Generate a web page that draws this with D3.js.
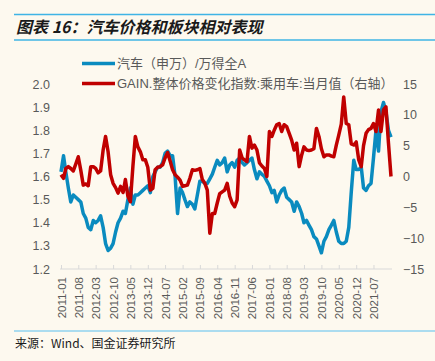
<!DOCTYPE html>
<html lang="zh">
<head>
<meta charset="UTF-8">
<title>汽车价格和板块相对表现</title>
<style>
  body, html { margin: 0; padding: 0; background: #fdf9ef; }
  svg { display: block; font-family: "Liberation Sans", Arial, "Noto Sans CJK SC", sans-serif; }
</style>
</head>
<body>
<svg id="chart" width="435" height="361"></svg>
<script src="https://d3js.org/d3.v7.min.js"></script>
<script>
// -------- DATA ------------
// monthly, 2011-01 .. 2022-02
const startMonth = new Date(2011, 0, 1)

// 汽车（申万）/万得全A  (left axis)
const ratio = [
  1.62, 1.69, 1.62, 1.55, 1.49, 1.52, 1.51, 1.50, 1.49, 1.44,
  1.42, 1.38, 1.37, 1.41, 1.40, 1.41, 1.43, 1.38, 1.31, 1.28,
  1.29, 1.31, 1.36, 1.40, 1.42, 1.45, 1.44, 1.50, 1.55, 1.48,
  1.52, 1.52, 1.53, 1.54, 1.55, 1.56, 1.53, 1.60, 1.62, 1.64,
  1.64, 1.66, 1.70, 1.71, 1.69, 1.69, 1.60, 1.44, 1.55, 1.53,
  1.50, 1.47, 1.49, 1.48, 1.46, 1.52, 1.58, 1.58, 1.57, 1.57,
  1.59, 1.61, 1.64, 1.67, 1.65, 1.66, 1.68, 1.62, 1.65, 1.66,
  1.64, 1.67, 1.68, 1.66, 1.65, 1.66, 1.67, 1.68, 1.63, 1.59,
  1.62, 1.61, 1.60, 1.58, 1.56, 1.53, 1.54, 1.49, 1.52, 1.54,
  1.55, 1.51, 1.50, 1.49, 1.45, 1.49, 1.47, 1.44, 1.40, 1.41,
  1.39, 1.37, 1.34, 1.33, 1.30, 1.27, 1.32, 1.34, 1.37, 1.39,
  1.41, 1.36, 1.32, 1.31, 1.31, 1.32, 1.38, 1.53, 1.67, 1.63,
  1.63, 1.64, 1.55, 1.54, 1.56, 1.57, 1.68, 1.80, 1.71, 1.88,
  1.92, 1.88, 1.80, 1.77
]

// GAIN.整体价格变化指数:乘用车:当月值 (right axis)
const gain = [
   0.3, -0.3,  1.3,  1.6,  1.3,  0.9,  2.0,  3.2,  1.0, -1.4,
  -1.2, -1.5,  1.6,  1.6,  1.3,  0.6,  0.9,  4.3,  6.5,  4.0,
   0.3, -1.1, -1.8, -2.7, -1.6, -2.6, -0.5, -3.2, -4.1,  1.6,
   6.5,  4.8,  4.0,  2.7,  2.7,  1.5, -2.2, -1.9,  1.1,  1.5,
   1.6,  1.9,  3.0,  3.9,  2.5,  1.1,  0.3, -0.1, -0.6, -1.6,
  -1.5, -1.4, -0.3,  1.1,  1.0,  1.1,  1.3, -0.5, -1.1, -2.2,
  -9.2, -6.0, -6.0, -4.3, -2.8, -2.5, -2.2, -1.1, -3.2, -4.3,
  -4.9, -3.8,  4.3,  3.0,  2.7,  2.4,  6.5,  4.6,  5.1,  4.3,
   2.2,  1.7,  1.3,  0.0,  7.3,  6.5,  7.5,  8.4,  8.6,  7.3,
   8.4,  8.1,  7.0,  5.9,  4.3,  5.4,  1.6,  3.5,  4.8,  4.3,
   4.2,  4.3,  4.5,  7.8,  6.5,  4.5,  3.2,  3.5,  3.5,  3.3,
   3.2,  5.1,  6.7,  8.5, 12.9,  8.6,  8.4,  5.3,  5.1,  5.6,
   2.7,  1.6,  5.0,  7.0,  7.6,  7.8,  8.6,  7.3, 10.8,  7.3,
  10.8, 11.3,  5.4,  0.0
]

const leftTicks = [1.2, 1.3, 1.4, 1.5, 1.6, 1.7, 1.8, 1.9, 2.0]
const rightTicks = [-15, -10, -5, 0, 5, 10, 15]
const tickStep = 7 // months between x labels
const lastTick = "2021-07"

const seriesNames = ["汽车（申万）/万得全A", "GAIN.整体价格变化指数:乘用车:当月值（右轴）"]
const seriesColors = ["#0a8bbf", "#c00000"]

const months = ratio.map((d, i) => d3.timeMonth.offset(startMonth, i))
const fmt = d3.timeFormat("%Y-%m")

// -------- LAYOUT ------------
const svg = d3.select("#chart")
const margin = { left: 61, right: 392, top: 84, bottom: 269 }

const x = d3.scaleTime()
  .domain([months[0], months[months.length - 1]])
  .range([margin.left, margin.right - 1])

const yL = d3.scaleLinear().domain([1.2, 2.0]).range([margin.bottom, margin.top])
const yR = d3.scaleLinear().domain([-15, 15]).range([margin.bottom, margin.top])

// title with rules
svg.append("line").attr("x1", 14).attr("x2", 435).attr("y1", 14.5).attr("y2", 14.5)
  .attr("stroke", "#3fb4e5").attr("stroke-width", 1.5)
svg.append("line").attr("x1", 14).attr("x2", 435).attr("y1", 40).attr("y2", 40)
  .attr("stroke", "#3fb4e5").attr("stroke-width", 1.5)
svg.append("text")
  .attr("x", 16).attr("y", 33)
  .style("font-size", "16px").style("font-weight", "bold").style("font-style", "italic")
  .style("font-family", "'Noto Sans CJK SC', sans-serif")
  .attr("fill", "#1a1a1a")
  .text("图表 16：汽车价格和板块相对表现")

// footer
svg.append("line").attr("x1", 14).attr("x2", 435).attr("y1", 331).attr("y2", 331)
  .attr("stroke", "#8fd2ef").attr("stroke-width", 1.5)
svg.append("text")
  .attr("x", 15).attr("y", 348)
  .style("font-size", "12px")
  .style("font-family", "'Noto Sans CJK SC', sans-serif")
  .attr("fill", "#1a1a1a")
  .text("来源：Wind、国金证券研究所")

// -------- AXES ------------
const lastIdx = months.findIndex(d => fmt(d) === lastTick)
const xTickVals = months.filter((d, i) => i % tickStep === 0 && i <= lastIdx)
const xAxis = d3.axisBottom(x).tickValues(xTickVals).tickSize(0).tickFormat(fmt)

const gx = svg.append("g").attr("transform", `translate(0,${margin.bottom})`).call(xAxis)
gx.select(".domain").attr("stroke", "#d9d9d9").attr("d", `M${margin.left - 1},0H${margin.right}`)
gx.selectAll(".tick").append("line").attr("y1", 0).attr("y2", -4).attr("stroke", "#d9d9d9")
gx.selectAll(".tick text")
  .attr("fill", "#595959")
  .style("font-size", "11.5px")
  .attr("text-anchor", "end")
  .attr("transform", "rotate(-90)")
  .attr("x", -8).attr("y", 0).attr("dy", "0.35em")

const gl = svg.append("g").attr("transform", `translate(${margin.left},0)`)
  .call(d3.axisLeft(yL).tickValues(leftTicks).tickSize(0).tickPadding(11).tickFormat(d3.format(".1f")))
gl.select(".domain").remove()
gl.selectAll("text").attr("fill", "#595959").style("font-size", "12.5px")

const gr = svg.append("g").attr("transform", `translate(${margin.right},0)`)
  .call(d3.axisRight(yR).tickValues(rightTicks).tickSize(0).tickPadding(11))
gr.select(".domain").remove()
gr.selectAll("text").attr("fill", "#595959").style("font-size", "12.5px")

// -------- LINES ------------
const lineL = d3.line().x((d, i) => x(months[i])).y(d => yL(d))
const lineR = d3.line().x((d, i) => x(months[i])).y(d => yR(d))

svg.append("path").datum(ratio)
  .attr("d", lineL).attr("fill", "none")
  .attr("stroke", seriesColors[0]).attr("stroke-width", 3.5).attr("stroke-linejoin", "round")

svg.append("path").datum(gain)
  .attr("d", lineR).attr("fill", "none")
  .attr("stroke", seriesColors[1]).attr("stroke-width", 3.5).attr("stroke-linejoin", "round")

// -------- LEGEND ------------
const legend = svg.append("g")
seriesNames.forEach((name, i) => {
  const ly = 63.5 + i * 20
  legend.append("line").attr("x1", 82).attr("x2", 115).attr("y1", ly).attr("y2", ly)
    .attr("stroke", seriesColors[i]).attr("stroke-width", 3.5)
  legend.append("text").attr("x", 117).attr("y", ly).attr("dy", "0.35em")
    .attr("fill", "#595959").style("font-size", "13px")
    .text(name)
})
</script>
</body>
</html>
